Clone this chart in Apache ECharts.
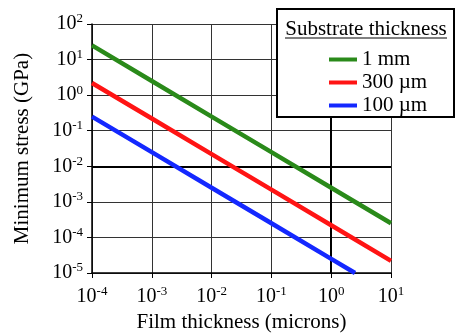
<!DOCTYPE html>
<html>
<head>
<meta charset="utf-8">
<script src="https://cdn.jsdelivr.net/npm/echarts@6/dist/echarts.min.js"></script>
<style>
html, body { margin: 0; padding: 0; background: #fff; }
#chart { width: 456px; height: 334px; }
</style>
</head>
<body>
<div id="chart"></div>
<script>
// film thickness (microns) at each point
var thickness = [0.0001, 0.001, 0.01, 0.1, 1, 10];
var thicknessBlue = [0.0001, 0.001, 0.01, 0.1, 1, 2.5];
// minimum stress (GPa)
var stress1mm = [25, 2.5, 0.25, 0.025, 0.0025, 0.00025];
var stress300um = [2.2, 0.22, 0.022, 0.0022, 0.00022, 0.000022];
var stress100um = [0.25, 0.025, 0.0025, 0.00025, 0.000025, 0.00001];
var seriesNames = ['1 mm', '300 \u00b5m', '100 \u00b5m'];
var seriesColors = ['#2a8a1a', '#ff1414', '#1428ff'];

var serif = '"Liberation Serif", "DejaVu Serif", serif';

function pairUp(xs, ys) {
	var out = [];
	for (var i = 0; i < xs.length; i++) {
		out.push([xs[i], ys[i]]);
	}
	return out;
}

function powLabel(value) {
	var e = Math.round(Math.log(value) / Math.LN10);
	return '{b|10}{s|' + e + '}';
}

var labelRich = {
	b: { fontFamily: serif, fontSize: 20, color: '#000' },
	s: { fontFamily: serif, fontSize: 13, color: '#000', padding: [0, 0, 10, 0] }
};

var chart = echarts.init(document.getElementById('chart'));

function lineSeries(idx, data) {
	return {
		name: seriesNames[idx],
		type: 'line',
		data: data,
		symbol: 'none',
		clip: true,
		lineStyle: { width: 4.5, color: seriesColors[idx] },
		itemStyle: { color: seriesColors[idx] },
		z: 5
	};
}

var series = [
	lineSeries(0, pairUp(thickness, stress1mm)),
	lineSeries(1, pairUp(thickness, stress300um)),
	lineSeries(2, pairUp(thicknessBlue, stress100um))
];
// heavier grid lines at 10^-2 and 10^0
series[0].markLine = {
	silent: true,
	symbol: 'none',
	label: { show: false },
	lineStyle: { color: '#000', width: 2, type: 'solid' },
	data: [{ yAxis: 0.01 }, { xAxis: 1 }],
	z: 2
};

var option = {
	animation: false,
	grid: { left: 92, right: 65, top: 24, bottom: 61, containLabel: false, outerBoundsMode: 'none' },
	xAxis: {
		type: 'log',
		logBase: 10,
		min: 0.0001,
		max: 10,
		name: 'Film thickness (microns)',
		nameLocation: 'middle',
		nameGap: 39,
		nameTextStyle: { fontFamily: serif, fontSize: 21, color: '#000' },
		axisLine: { lineStyle: { color: '#000', width: 1.5 } },
		axisTick: { show: true, length: 5, lineStyle: { color: '#000' } },
		minorTick: { show: false },
		splitLine: { show: true, lineStyle: { color: '#333', width: 1 } },
		axisLabel: { formatter: powLabel, rich: labelRich, margin: 12 }
	},
	yAxis: {
		type: 'log',
		logBase: 10,
		min: 0.00001,
		max: 100,
		name: 'Minimum stress (GPa)',
		nameLocation: 'middle',
		nameGap: 59,
		nameTextStyle: { fontFamily: serif, fontSize: 21, color: '#000' },
		axisLine: { show: true, lineStyle: { color: '#000', width: 1.5 } },
		axisTick: { show: true, length: 5, lineStyle: { color: '#000' } },
		splitLine: { show: true, lineStyle: { color: '#333', width: 1 } },
		axisLabel: { formatter: powLabel, rich: labelRich, margin: 9 }
	},
	legend: {
		orient: 'vertical',
		left: 324,
		top: 44,
		icon: 'rect',
		itemWidth: 28,
		itemHeight: 4,
		itemGap: 2,
		data: seriesNames,
		textStyle: { fontFamily: serif, fontSize: 21, color: '#000', lineHeight: 20 },
		z: 20
	},
	graphic: [
		{
			type: 'rect',
			shape: { x: 277, y: 9, width: 177, height: 108 },
			style: { fill: '#fff', stroke: '#000', lineWidth: 2 },
			z: 15
		},
		{
			type: 'text',
			x: 366,
			y: 19,
			style: {
				text: 'Substrate thickness',
				font: '21px ' + serif,
				fill: '#000',
				textAlign: 'center'
			},
			z: 16
		},
		{
			type: 'line',
			shape: { x1: 285, y1: 38, x2: 447, y2: 38 },
			style: { stroke: '#000', lineWidth: 1 },
			z: 16
		}
	],
	series: series
};

chart.setOption(option);
</script>
</body>
</html>
